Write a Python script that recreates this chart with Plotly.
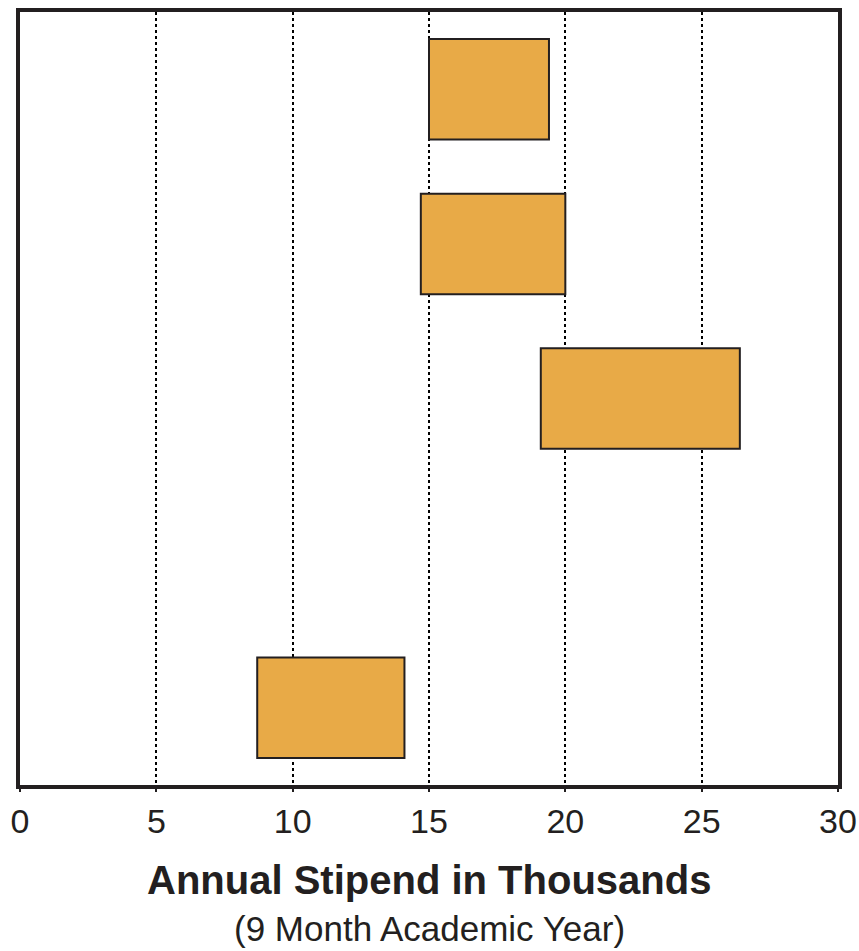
import plotly.graph_objects as go

# Data
rows = [1, 2, 3, 5]
stipend_low = [15.0, 14.7, 19.1, 8.7]
stipend_high = [19.4, 20.0, 26.4, 14.1]
x_ticks = [0, 5, 10, 15, 20, 25, 30]

widths = [h - l for l, h in zip(stipend_low, stipend_high)]

FONT = "Liberation Sans, Arial, sans-serif"
DARK = "#231F20"

fig = go.Figure()
fig.add_trace(go.Bar(
    y=rows, x=widths, base=stipend_low, orientation="h",
    width=0.65,
    marker=dict(color="#E8AA47", line=dict(color=DARK, width=2)),
    hoverinfo="skip",
))

fig.update_layout(
    width=859, height=951,
    margin=dict(l=20, r=21, t=12, b=166),
    paper_bgcolor="white", plot_bgcolor="white",
    showlegend=False,
    font=dict(family=FONT, color=DARK),
    xaxis=dict(
        range=[0, 30], tickvals=x_ticks, ticktext=[str(v) for v in x_ticks],
        showgrid=True, gridcolor="black", griddash="dot", gridwidth=1.5,
        showline=True, linecolor=DARK, linewidth=4, mirror=True,
        ticks="outside", ticklen=3, tickcolor=DARK, tickwidth=1.5,
        tickfont=dict(size=34, family=FONT, color=DARK),
        zeroline=False, automargin=False,
    ),
    yaxis=dict(
        range=[5.5, 0.5], showticklabels=False, showgrid=False,
        showline=True, linecolor=DARK, linewidth=4, mirror=True,
        ticks="", zeroline=False, automargin=False,
    ),
    annotations=[
        dict(text="<b>Annual Stipend in Thousands</b>", x=0.5, y=-0.123,
             xref="paper", yref="paper", showarrow=False,
             xanchor="center", yanchor="middle",
             font=dict(size=40, family=FONT, color=DARK)),
        dict(text="(9 Month Academic Year)", x=0.5, y=-0.185,
             xref="paper", yref="paper", showarrow=False,
             xanchor="center", yanchor="middle",
             font=dict(size=35, family=FONT, color=DARK)),
    ],
)

fig.write_html("out.html", config={"displayModeBar": False},
               post_script="document.body.style.margin='0px';")
